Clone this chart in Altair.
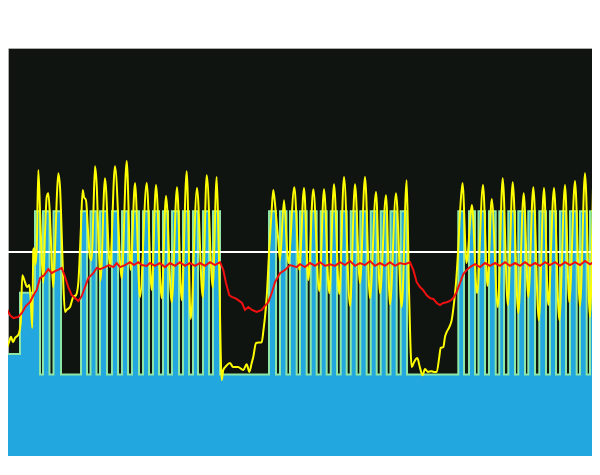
import altair as alt
import pandas as pd

# Step series (blue area): x position where a level starts, and the level
step_x = [0, 20, 35, 40, 43, 49.5, 53.5, 61, 81, 87, 90.5, 96.5, 100, 107, 112, 118, 122, 128,
          132, 139, 143, 149, 153, 159, 163, 168, 172, 179, 183, 189, 193, 198, 203, 209, 213, 220,
          269, 276, 280, 286.5, 290, 296.7, 300, 306.7, 310.7, 316.7, 320.7, 326.7, 330.7, 337,
          340.7, 346.7, 350.7, 356.7, 360.3, 366.7, 370.7, 376.7, 380.7, 386.7, 390.5, 396.7,
          400.7, 407,
          458.3, 464, 469, 475, 478.5, 485, 489, 495.7, 499.3, 504, 508.3, 515, 518.3, 525, 528.3,
          535, 539.3, 546, 550, 556, 560, 566, 570, 576.7, 580, 586.7, 590, 596.7, 600]
step_level = [25, 40, 60, 20, 60, 20, 60, 20, 60, 20, 60, 20, 60, 20, 60, 20, 60, 20,
              60, 20, 60, 20, 60, 20, 60, 20, 60, 20, 60, 20, 60, 20, 60, 20, 60, 20,
              60, 20, 60, 20, 60, 20, 60, 20, 60, 20, 60, 20, 60, 20,
              60, 20, 60, 20, 60, 20, 60, 20, 60, 20, 60, 20,
              60, 20,
              60, 20, 60, 20, 60, 20, 60, 20, 60, 20, 60, 20, 60, 20, 60,
              20, 60, 20, 60, 20, 60, 20, 60, 20, 60, 20, 60, 20, 20]

# Yellow series
yellow_x = [0, 3, 6.7, 9, 11, 13, 15, 18.3, 20.7, 22.3, 25, 27, 29.3, 30.7, 32.3, 33.3, 34.3, 35.3,
            36.7, 38.3, 40, 41.7, 43.3, 45, 46.7, 48.3, 50, 51.7, 53.3, 55, 56.7, 58.3, 60, 61.7,
            63.3, 65, 66.7, 70, 73.3, 76, 78.3, 80.7, 82.7, 84, 86, 88, 90, 91.7, 93.3, 95, 96.7,
            98.3, 100.5, 105, 110, 115, 121.7, 126.7, 130.7, 135, 140, 146.7, 151.7, 156, 161.7,
            166, 171.7, 177, 181.7, 186.7, 190.7, 197, 202.7, 206.7, 212.7, 216.7, 219, 221.7,
            223.3, 226, 230, 233, 238, 243.3, 246.7, 249.3, 251.7, 253.3, 256, 261.7, 263.5, 265,
            266.7, 269.3, 271.7, 273.3, 276, 278.3, 280, 284, 288.3, 294.3, 299.3, 304, 308.3,
            313.3, 319.3, 324, 329.3, 334, 339.3, 344, 350, 355, 360, 365, 370, 376, 380, 386,
            390, 396, 401.7, 406.7, 409, 411.7, 414, 417.3, 420, 422.5, 425, 428, 431, 434, 436.7,
            439.3, 440.7, 443.3, 445, 446.7, 449.3, 451.7, 454, 456, 458.3, 460, 462.5, 466.5,
            472, 477, 483, 487.5, 491.7, 497.8, 502.7, 507.8, 512.7, 518.3, 523.7, 528.3, 533.3,
            538.8, 544, 548.3, 554, 559.3, 565, 569.3, 575, 580, 585, 590, 594.5, 597, 598.3, 600]
yellow_v = [29.7, 28.9, 26.5, 27.9, 29.2, 27.9, 28.9, 29.7, 32.6, 44.3, 42.6, 41.4, 41.9, 38.2,
            31.4, 50.5, 51, 46.8, 50.5, 70.1, 60.3, 48.8, 42.4, 54.6, 63.5, 64.4, 58.6, 48, 41.4,
            50.5, 62.7, 69.3, 65.9, 54.6, 42.4, 35.3, 35.8, 36.5, 39, 39.4, 42.4, 54.6, 65.2, 63.5,
            62.7, 55.4, 48.5, 48, 59, 71, 66.4, 54.6, 43, 68.1, 46.3, 71, 43.6, 72.3, 45.6, 66.9,
            39, 66.9, 40.7, 66.4, 38.7, 63.7, 37.7, 65.9, 38.2, 69.8, 33.6, 65.7, 39, 68.8, 41.4,
            68.4, 48, 18.6, 21.1, 22, 22.8, 21.8, 21.8, 21.1, 22.5, 20.6, 22.8, 24.3, 27.7, 27.9,
            30.9, 34.1, 39, 51, 60.3, 65.2, 59, 52.9, 48, 62.7, 47.3, 65.9, 45.6, 65.7, 43.1, 65.4,
            40.4, 65.4, 39.9, 66.6, 39.7, 68.4, 36.8, 66.6, 42.4, 68.4, 38.7, 64.7, 39.9, 63.9,
            37.2, 64.4, 36.5, 67.6, 40.7, 21.8, 23, 24, 21.6, 19.8, 21.3, 20.6, 20.8, 20.6, 20.6,
            24.3, 26.5, 26.7, 29.2, 30.4, 31.6, 33.3, 37.5, 42.4, 51.2, 59.5, 66.9, 47.3, 61.5,
            39.9, 66.4, 41.7, 63, 36.5, 68.1, 37, 67.1, 35, 64.4, 39, 65.9, 33.3, 65.7, 37, 65.7,
            33.3, 66.4, 37.7, 67.4, 36.8, 69.3, 34.1, 77.4, 40.7, 19.4, 13.7]

# Red series
red_x = [0, 7.3, 10, 13.3, 18.3, 21.7, 26, 30, 33, 36.7, 40, 44, 48.3, 51.7, 55, 58, 61.7, 65,
         68.3, 71.7, 75, 78.3, 81.7, 85, 88.3, 93.3, 96.7, 100, 105, 109, 113.3, 116.7, 120, 125,
         130, 134, 138.3, 142, 146.7, 150, 155, 160, 165, 170, 175, 180, 185, 190, 195, 200, 205,
         210, 215, 220, 223.3, 226, 229.3, 231.7, 235, 238.3, 242, 245, 248.3, 252, 256.7, 261.7,
         265, 268.3, 271.7, 275, 280, 285, 290, 296.7, 300, 305, 310, 315, 320, 325, 330, 335,
         340, 345, 350, 355, 360, 365, 370, 375, 380, 385, 390, 395, 400, 405, 410, 413.3, 416.7,
         420, 423, 426.7, 430, 433.3, 436.7, 440, 443.3, 446.7, 450, 453.3, 456.7, 460, 463.3,
         466.7, 470, 475, 480, 485, 490, 495, 500, 505, 510, 515, 520, 525, 530, 535, 540, 545,
         550, 555, 560, 565, 570, 575, 580, 585, 590, 595, 600]
red_v = [32.6, 35.8, 34.5, 33.8, 34.1, 35, 36.8, 37.7, 39.2, 40.7, 43.6, 44.3, 45.8, 44.8, 45.3,
         45.6, 46.1, 43.9, 41.4, 39.4, 38.7, 38, 39.2, 41.4, 43.6, 44.8, 46.1, 45.8, 46.3, 46.8,
         46.3, 47.3, 46.3, 46.8, 47.5, 46.8, 47.5, 46.8, 46.6, 47.3, 46.6, 47.3, 46.3, 47.3, 46.6,
         47.5, 46.6, 47.3, 46.6, 47.3, 46.6, 47.5, 46.8, 47.5, 45.6, 42.4, 39.4, 39, 38.7, 38.2,
         37.5, 35.8, 36.5, 35.8, 35.3, 35.8, 36.8, 37.7, 39.9, 42.6, 44.8, 45.6, 46.8, 46.3, 47,
         46.3, 47.3, 46.6, 47.5, 46.6, 47, 46.6, 47.5, 46.8, 47.8, 46.6, 47.3, 46.8, 47.8, 46.6,
         47.3, 46.6, 47.5, 46.6, 47.3, 47, 47.5, 45.6, 42.6, 41.4, 40.7, 39.4, 38.7, 38.5, 37.5,
         37, 37.5, 37.7, 38, 38.7, 40.2, 42.4, 44.6, 45.6, 46.3, 47, 46.3, 47.3, 46.6, 47.3, 46.6,
         47.5, 46.6, 47.3, 46.6, 47.5, 46.6, 47.3, 46.6, 47.5, 46.8, 47.5, 46.6, 47.5, 46.8,
         47.5, 46.8, 47.8, 47, 47.8, 48]

threshold = [50]

xs = alt.Scale(domain=[8, 592], nice=False, zero=False)
ys = alt.Scale(domain=[0, 100], nice=False, zero=False)

step_df = pd.DataFrame({"x": step_x, "v": step_level})
yellow_df = pd.DataFrame({"x": yellow_x, "v": yellow_v})
red_df = pd.DataFrame({"x": red_x, "v": red_v})
thr_df = pd.DataFrame({"v": threshold})

area = alt.Chart(step_df).mark_area(
    interpolate="step-after", color="#22a8de", opacity=1, clip=True,
    line={"color": "#8ee6a6", "strokeWidth": 2},
).encode(
    x=alt.X("x:Q", scale=xs, axis=None),
    y=alt.Y("v:Q", scale=ys, axis=None),
)

rule = alt.Chart(thr_df).mark_rule(color="#ffffff", strokeWidth=2).encode(
    y=alt.Y("v:Q", scale=ys, axis=None)
)

yellow = alt.Chart(yellow_df).mark_line(
    color="#ffff00", strokeWidth=2, interpolate="monotone", clip=True
).encode(
    x=alt.X("x:Q", scale=xs, axis=None),
    y=alt.Y("v:Q", scale=ys, axis=None),
)

red = alt.Chart(red_df).mark_line(color="#f01010", strokeWidth=2, clip=True).encode(
    x=alt.X("x:Q", scale=xs, axis=None),
    y=alt.Y("v:Q", scale=ys, axis=None),
)

chart = alt.layer(area, rule, yellow, red).properties(
    width=584,
    height=408,
    padding={"left": 0, "right": 0, "top": 40, "bottom": 0},
    autosize=alt.AutoSizeParams(type="none"),
    background="#ffffff",
).configure_view(
    fill="#101410", stroke="#ffffff", strokeOpacity=0.3, strokeWidth=1
)

chart.save("out.html", embed_options={"renderer": "svg", "actions": False})
